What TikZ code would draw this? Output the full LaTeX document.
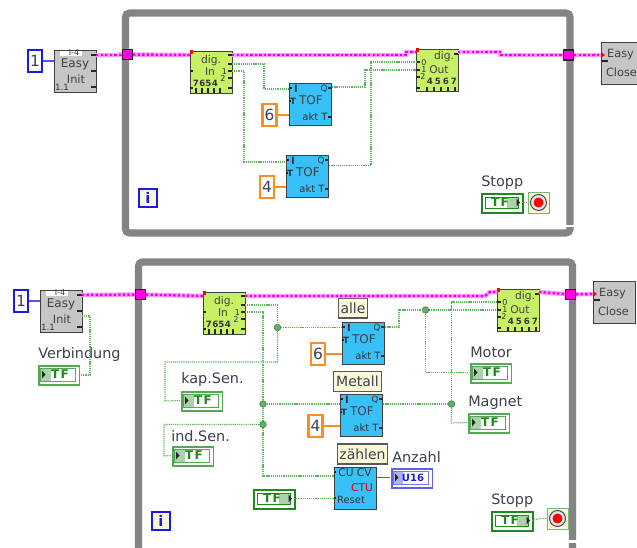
\documentclass[tikz,border=0pt]{standalone}
\usepackage{fontspec}
\setmainfont{DejaVu Sans}
\usetikzlibrary{fit,calc}
\definecolor{loopgray}{HTML}{848484}
\definecolor{blockgray}{HTML}{C6C6C6}
\definecolor{limeblock}{HTML}{C8F064}
\definecolor{tofblue}{HTML}{38C0F8}
\definecolor{wiregreen}{HTML}{5CB45C}
\definecolor{darkgreen}{HTML}{1E8A1E}
\definecolor{softgreen}{HTML}{55A855}
\definecolor{pinkbase}{HTML}{FF9CFF}
\definecolor{pinkdot}{HTML}{F000F0}
\definecolor{tunnelfill}{HTML}{FF00E8}
\definecolor{labelcream}{HTML}{FBF8D8}
\definecolor{orangeedge}{HTML}{FF8C1E}
\definecolor{blueedge}{HTML}{1A1AF0}
\definecolor{txtgray}{HTML}{3C4050}
\tikzset{
  x=0.75pt,y=-0.75pt,
  looprect/.style={draw=loopgray,line width=5.4pt,rounded corners=3pt,inner sep=0pt},
  lvblock/.style={draw=black!75,line width=0.9pt,minimum width=31.5pt,minimum height=31.5pt,inner sep=0pt,anchor=north west},
  cap1/.style={font=\fontsize{9}{10}\selectfont,text=black!75,inner sep=0pt},
  cap2/.style={font=\fontsize{6}{7}\selectfont,text=black!80,inner sep=0pt},
  lbl/.style={font=\fontsize{10.8}{12}\selectfont,text=txtgray,inner sep=0pt,anchor=west},
  tagbox/.style={draw=black!65,line width=0.9pt,fill=labelcream,inner sep=0pt,font=\fontsize{10.5}{11}\selectfont,text=txtgray,anchor=center},
  constbox/.style={draw=#1,line width=1.6pt,fill=white,minimum width=10.5pt,minimum height=16.5pt,inner sep=0pt,font=\fontsize{11.5}{12}\selectfont,text=txtgray},
  iterbox/.style={draw=blueedge,line width=1.5pt,fill=labelcream,minimum width=14pt,minimum height=14pt,inner sep=0pt,font=\bfseries\fontsize{11}{12}\selectfont,text=blueedge},
  tunnelbox/.style={draw=black!85,line width=0.8pt,fill=tunnelfill,minimum width=7.5pt,minimum height=7.5pt,inner sep=0pt},
  greenwire/.style={draw=wiregreen,line width=0.8pt,dash pattern=on 0.9pt off 0.7pt},
  bluewire/.style={draw=blueedge!75,line width=1pt},
  orangewire/.style={draw=orangeedge,line width=1pt},
  pinkwire/.style={draw=pinkdot,line width=1.8pt,dash pattern=on 1.8pt off 1.6pt,preaction={draw=pinkbase,line width=3.3pt,solid}},
  joint/.style={circle,fill=wiregreen,draw=wiregreen!70!black,line width=0.4pt,minimum size=5pt,inner sep=0pt},
  lvtick/.style={draw=black!85,line width=0.9pt},
  digin/.pic={
    \node[lvblock,fill=limeblock] (-box) at (0,0) {};
    \node[cap1,font=\fontsize{8}{9}\selectfont] (-a) at (21,10) {dig.};
    \node[cap1,font=\fontsize{8}{9}\selectfont] (-b) at (20,21) {In};
    \foreach \dx/\dt in {6/7,12.5/6,18.5/5,25/4}{\node[cap2,font=\bfseries\fontsize{6.5}{7}\selectfont] at (\dx,32) {\dt};}
    \node[cap2] at (34.5,20.5) {1}; \node[cap2] at (33,27.5) {2};
    \foreach \dy in {4,13,20,27,37}{\draw[lvtick] (38,\dy) -- (42,\dy);}
    \foreach \dy in {20,37}{\draw[lvtick] (0,\dy) -- (3,\dy);}
    \foreach \dx in {6,12,18,24,30}{\draw[lvtick] (\dx,37) -- (\dx,42);}
    \fill[red] (0,-1) rectangle (3,3);
    \coordinate (-in) at (0,4); \coordinate (-out) at (42,4);
    \coordinate (-o1) at (42,13); \coordinate (-o2) at (42,20);
  },
  digout/.pic={
    \node[lvblock,fill=limeblock] (-box) at (0,0) {};
    \node[cap1,font=\fontsize{8}{9}\selectfont] (-a) at (28,8) {dig.};
    \node[cap1,font=\fontsize{8}{9}\selectfont] (-b) at (23,21) {Out};
    \node[cap2] at (8,14) {0}; \node[cap2] at (8,20.8) {1}; \node[cap2] at (7,27.8) {2};
    \foreach \dx/\dt in {14/4,22/5,30/6,38/7}{\node[cap2,font=\bfseries\fontsize{6.5}{7}\selectfont] at (\dx,32) {\dt};}
    \foreach \dy in {13,21,28,39}{\draw[lvtick] (0,\dy) -- (4,\dy);}
    \draw[lvtick] (38,5) -- (42,5);
    \foreach \dx in {11,18,25,32,39}{\draw[lvtick] (\dx,38) -- (\dx,42);}
    \fill[red] (0,-1) rectangle (3,3);
    \coordinate (-in) at (0,3); \coordinate (-out) at (42,3);
    \coordinate (-i0) at (0,13); \coordinate (-i1) at (0,21);
  },
  easyinit/.pic={
    \node[lvblock,fill=blockgray] (-box) at (0,0) {};
    \fill[white] (6,1) rectangle (28,6);
    \node[cap2] at (20,3) {I-4};
    \node[cap1] (-a) at (21,14) {Easy};
    \node[cap1,font=\fontsize{8.5}{9}\selectfont] (-b) at (22,29) {Init};
    \node[cap2,font=\fontsize{6.5}{7}\selectfont] at (8,37.5) {1.1};
    \foreach \dy in {5,21,37}{\draw[lvtick] (37,\dy) -- (42,\dy);}
    \coordinate (-in) at (0,11); \coordinate (-out) at (42,5); \coordinate (-o2) at (42,26);
  },
  easyclose/.pic={
    \node[lvblock,fill=blockgray] (-box) at (0,0) {};
    \node[cap1,font=\fontsize{8.5}{9}\selectfont] (-a) at (19.5,13) {Easy};
    \node[cap1,font=\fontsize{8.5}{9}\selectfont] (-b) at (20.5,30) {Close};
    \draw[lvtick] (1,19) -- (7,19);
    \fill[red] (0,10) -- (4,13) -- (0,16) -- cycle;
    \coordinate (-in) at (0,13);
  },
  tofblock/.pic={
    \node[lvblock,fill=tofblue] (-box) at (0,0) {};
    \node[cap2,font=\bfseries\fontsize{7.5}{8}\selectfont] at (7,6) {I};
    \node[cap2,font=\bfseries\fontsize{6.5}{7}\selectfont] at (4,18) {T};
    \node[cap1,font=\fontsize{9}{10}\selectfont] (-a) at (22,17) {TOF};
    \node[cap2,font=\fontsize{7.5}{8}\selectfont] (-b) at (26,34) {akt T};
    \node[cap2,font=\fontsize{6.5}{7}\selectfont] at (35,6) {Q};
    \foreach \dy/\dx in {5/3,18/2}{\draw[lvtick] (0,\dy) -- (\dx,\dy);}
    \foreach \dy in {5,34}{\draw[lvtick] (39,\dy) -- (42,\dy);}
  },
  ctublock/.pic={
    \node[lvblock,fill=tofblue] (-box) at (0,0) {};
    \node[cap2,font=\fontsize{8}{9}\selectfont] (-a) at (21,6) {CU CV};
    \node[cap2,font=\fontsize{8}{9}\selectfont,text=red!85!black] (-b) at (28,21) {CTU};
    \node[cap2,font=\fontsize{7.5}{8}\selectfont] (-c) at (17,33) {Reset};
    \draw[lvtick] (0,31) -- (2,31); \draw[lvtick] (0,5) -- (2,5);
  },
  tfright/.pic={
    \node[draw=darkgreen,line width=1.5pt,fill=white,minimum width=30.5pt,minimum height=14.5pt,inner sep=0pt,anchor=north west] (-box) at (1,1) {};
    \fill[softgreen!50] (27,5) rectangle (38,16);
    \draw[darkgreen,line width=0.4pt] (5,5) rectangle (38,16);
    \node[inner sep=0pt,font=\bfseries\fontsize{9}{10}\selectfont,text=darkgreen] (-t) at (20,10.5) {T\kern1ptF};
    \fill[black!85] (36.5,6.5) -- (40,10.5) -- (36.5,14.5) -- cycle;
    \coordinate (-out) at (42,10.5);
  },
  tfleft/.pic={
    \node[draw=softgreen,line width=1.2pt,fill=white,minimum width=30.5pt,minimum height=14.5pt,inner sep=0pt,anchor=north west] (-box) at (1,1) {};
    \fill[softgreen!50] (3,4) rectangle (14,17);
    \draw[softgreen,line width=0.4pt] (3,4) rectangle (38,17);
    \node[inner sep=0pt,font=\bfseries\fontsize{9}{10}\selectfont,text=darkgreen] (-t) at (23,10.5) {T\kern1ptF};
    \fill[black!85] (5,6.5) -- (8.5,10.5) -- (5,14.5) -- cycle;
    \coordinate (-in) at (0,10.5);
  },
  u16box/.pic={
    \node[draw=blueedge!70,line width=1.2pt,fill=white,minimum width=30.5pt,minimum height=14.5pt,inner sep=0pt,anchor=north west] (-box) at (1,1) {};
    \fill[blueedge!35] (3,4) rectangle (13,17);
    \draw[blueedge!60,line width=0.4pt] (3,4) rectangle (38,17);
    \fill[black!85] (5,6.5) -- (8.5,10.5) -- (5,14.5) -- cycle;
    \node[inner sep=0pt,font=\bfseries\fontsize{7.5}{8}\selectfont,text=blueedge] (-t) at (23,10.5) {U16};
    \coordinate (-in) at (0,10.5);
  },
  stopicon/.pic={
    \node[draw=softgreen!80,line width=0.7pt,fill=labelcream,minimum width=15.5pt,minimum height=15.5pt,inner sep=0pt,anchor=north west] (-box) at (0,0) {};
    \node[draw=black!70,line width=0.8pt,fill=white!80!gray,circle,minimum size=12pt,inner sep=0pt] (-ring) at (10.5,10.5) {};
    \node[fill=red,circle,minimum size=7.5pt,inner sep=0pt] (-dot) at (10.5,10.5) {};
    \coordinate (-in) at (0,10.5);
  },
}
\begin{document}
\begin{tikzpicture}
\useasboundingbox (0,0) rectangle (637,548);
\clip (0,0) rectangle (637,548);
\fill[white] (0,0) rectangle (637,548);

% ---------- loops
\node[looprect,fit={(125.5,13) (570,233)}] (loopA) {};
\node[looprect,fit={(138.5,262) (572.5,552)}] (loopB) {};
\fill[white] (564,225) rectangle (578,227);
\fill[white] (562,540.5) rectangle (580,543);

% ---------- upper diagram
\node[constbox=blueedge] (oneA) at (35,61) {1};
\pic (initA) at (54,50) {easyinit};
\pic (inA) at (190,51) {digin};
\pic (outA) at (416,49) {digout};
\pic (closeA) at (601,42) {easyclose};
\pic (tofA1) at (289,83) {tofblock};
\pic (tofA2) at (286,155) {tofblock};
\node[constbox=orangeedge] (sixA) at (269.5,115) {6};
\node[constbox=orangeedge] (fourA) at (267,187) {4};
\node[tunnelbox] (tunA1) at (127.5,54.5) {};
\node[tunnelbox] (tunA2) at (568.5,55) {};
\node[iterbox] (iterA) at (148,198) {i};
\node[lbl] (stopA) at (481,183) {Stopp};
\pic (tfA) at (480,192) {tfright};
\pic (iconA) at (528,192) {stopicon};

\draw[bluewire] (oneA) -- (initA-in);
\draw[orangewire] (sixA) -- (tofA1-box.west |- sixA);
\draw[orangewire] (fourA) -- (tofA2-box.west |- fourA);
\draw[pinkwire] (initA-out) -- ++(25,0) -- ++(0,-1) -- (tunA1);
\draw[pinkwire] (tunA1) -- (inA-in);
\draw[pinkwire] (inA-out) -- ++(174,0) -- ++(0,-3) -- (outA-in);
\draw[pinkwire] (outA-out) -- (500,52) -- (500,55) -- (tunA2);
\draw[pinkwire] (tunA2) -- (closeA-in);
\draw[greenwire] (inA-o1) -- (264,64) -- (264,89) -- (tofA1-box.west |- 0,89);
\draw[greenwire] (inA-o2) -- (244,71) -- (244,162) -- (tofA2-box.west |- 0,162);
\draw[greenwire] (tofA1-box.east |- 0,87) -- (365,87) -- (365,70) -- (outA-box.west |- 0,70);
\draw[greenwire] (tofA2-box.east |- 0,165.5) -- (371,165.5) -- (371,62) -- (outA-i0);
\draw[greenwire] (tfA-out) -- (iconA-in);
\node[tunnelbox] at (tunA1) {};
\node[tunnelbox] at (tunA2) {};

% ---------- lower diagram
\node[constbox=blueedge] (oneB) at (21,301) {1};
\pic (initB) at (40,290) {easyinit};
\pic (inB) at (203,292) {digin};
\pic (outB) at (497,289) {digout};
\pic (closeB) at (593,281) {easyclose};
\pic (tofB1) at (342,322) {tofblock};
\pic (tofB2) at (340,394) {tofblock};
\pic (ctuB) at (334,467) {ctublock};
\node[constbox=orangeedge] (sixB) at (318,354) {6};
\node[constbox=orangeedge] (fourB) at (315.5,426) {4};
\node[tunnelbox] (tunB1) at (140.5,294.5) {};
\node[tunnelbox] (tunB2) at (570.5,294.5) {};
\node[iterbox] (iterB) at (161,521) {i};
\node[tagbox,minimum width=22pt,minimum height=15pt] (tagalle) at (353,308) {alle};
\node[tagbox,minimum width=36pt,minimum height=15pt] (tagmetall) at (357.5,381.5) {Metall};
\node[tagbox,minimum width=38pt,minimum height=15pt] (tagzaehlen) at (362.5,454) {zählen};

\node[lbl] (verb) at (38,355) {Verbindung};
\pic (tfverb) at (37,364) {tfleft};
\node[lbl] (kap) at (181,380) {kap.Sen.};
\pic (tfkap) at (180,390) {tfleft};
\node[lbl] (ind) at (171,436) {ind.Sen.};
\pic (tfind) at (171,445) {tfleft};
\node[lbl] (motor) at (470,352) {Motor};
\pic (tfmotor) at (469,362) {tfleft};
\node[lbl] (magnet) at (468,403) {Magnet};
\pic (tfmagnet) at (467,412) {tfleft};
\node[lbl] (anzahl) at (392,457) {Anzahl};
\pic (u16) at (390,467) {u16box};
\pic (tfreset) at (252,488) {tfright};
\node[lbl] (stopB) at (491,501) {Stopp};
\pic (tfB) at (490,510) {tfright};
\pic (iconB) at (547,508) {stopicon};

\node[joint] (j1) at (277.5,327.5) {};
\node[joint] (j2) at (263,404) {};
\node[joint] (j3) at (263,424.5) {};
\node[joint] (j4) at (425.5,310) {};
\node[joint] (j5) at (451.5,404) {};

\draw[bluewire] (oneB) -- (initB-in);
\draw[orangewire] (sixB) -- (tofB1-box.west |- sixB);
\draw[orangewire] (fourB) -- (tofB2-box.west |- fourB);
\draw[pinkwire] (initB-out) -- (tunB1);
\draw[pinkwire] (tunB1) -- (inB-in);
\draw[pinkwire] (inB-out) -- (485,296) -- (490,292) -- (outB-in);
\draw[pinkwire] (outB-out) -- (tunB2);
\draw[pinkwire] (tunB2) -- (closeB-in);
\draw[greenwire] (initB-o2) -- (90,316) -- (90,375) -- (tfverb-box.east |- 0,375);
\draw[greenwire] (inB-o1) -- (277.5,305) -- (j1);
\draw[greenwire] (j1) -- (277.5,362) -- (165,362) -- (165,401) -- (tfkap-in);
\draw[greenwire] (j1) -- (tofB1-box.west |- j1);
\draw[greenwire] (inB-o2) -- (263,312) -- (j2);
\draw[greenwire] (j2) -- (j3);
\draw[greenwire] (j2) -- (tofB2-box.west |- j2);
\draw[greenwire] (j3) -- (164,424.5) -- (164,456) -- (tfind-in);
\draw[greenwire] (j3) -- (263,476) -- (ctuB-box.west |- 0,476);
\draw[greenwire] (tfreset-out) -- (ctuB-box.west |- tfreset-out);
\draw[greenwire] (tofB1-box.east |- 0,327) -- (399,327) -- (399,310) -- (j4);
\draw[greenwire] (j4) -- (outB-box.west |- j4);
\draw[greenwire] (j4) -- (425.5,372.5) -- (tfmotor-in);
\draw[greenwire] (tofB2-box.east |- j5) -- (j5);
\draw[greenwire] (j5) -- (451.5,302) -- (outB-i0);
\draw[greenwire] (j5) -- (451.5,423) -- (tfmagnet-in);
\draw[bluewire] (ctuB-box.east |- u16-in) -- (u16-in);
\draw[greenwire] (tfB-out) -- (540,518.5) -- (iconB-in);
\node[tunnelbox] at (tunB1) {};
\node[tunnelbox] at (tunB2) {};
\end{tikzpicture}
\end{document}
